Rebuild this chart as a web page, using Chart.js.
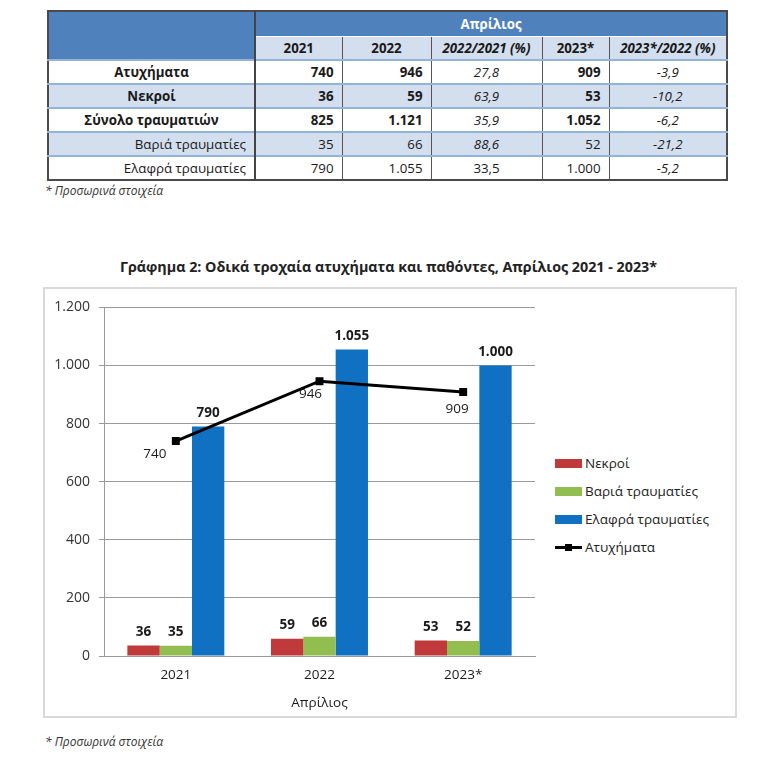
<!DOCTYPE html>
<html lang="el">
<head>
<meta charset="utf-8">
<title>Οδικά τροχαία ατυχήματα - Απρίλιος 2021 - 2023</title>
<script src="https://cdn.jsdelivr.net/npm/chart.js@4/dist/chart.umd.min.js"></script>
<style>
    html, body { margin: 0; padding: 0; background: #fff; }
    body { width: 777px; height: 762px; position: relative; font-family: "Open Sans", "Noto Sans", sans-serif; color: #1a1a1a; }
    #stats { position: absolute; left: 47px; top: 10px; border-collapse: collapse; table-layout: fixed; width: 679px; border: 2px solid #4a4a4a; font-size: 13.3px; }
    #stats td, #stats th { padding: 0 8px; height: 22px; line-height: 22px; border-left: 1px solid #555; white-space: nowrap; }
    #stats th { font-weight: bold; }
    #stats .corner { background: #4f81bd; border-right: 2px solid #444; }
    #stats .month { background: #4f81bd; color: #fff; height: 24px; border-bottom: 1px solid #fff; }
    #stats .sub th { background: #d3dfee; text-align: center; }
    #stats tbody td { border-top: 2px solid #95b3d7; text-align: right; }
    #stats tbody tr:nth-child(even) td { background: #d3dfee; }
    #stats tbody td.lbl { border-right: 2px solid #444; }
    #stats td.b { font-weight: bold; text-align: center; }
    #stats td.i { font-style: italic; text-align: center; }
    #stats td.c { text-align: center; }
    .note { position: absolute; left: 45px; font-size: 12px; font-style: italic; color: #333; }
    #chartTitle { position: absolute; left: 0; width: 777px; top: 257px; text-align: center; font-size: 14.3px; font-weight: bold; color: #222; }
    #chartBox { position: absolute; left: 43px; top: 287px; width: 690px; height: 427px; border: 2px solid #d9d9d9; }
    #chartWrap { position: absolute; left: 1px; top: 1px; width: 500px; height: 425px; }
    #legend { position: absolute; left: 510px; top: 160px; }
    .item { display: flex; align-items: center; height: 28px; font-size: 13.5px; color: #222; }
    .sw { width: 27px; height: 9px; margin-right: 3px; position: relative; }
    .sw.line::before { content: ""; position: absolute; left: 0; right: 0; top: 3px; height: 3px; background: #000; }
    .sw.line::after { content: ""; position: absolute; left: 10px; top: 1px; width: 7px; height: 7px; background: #000; }
</style>
</head>
<body>

<table id="stats">
    <colgroup>
        <col style="width:207px"><col style="width:87px"><col style="width:89px"><col style="width:111px"><col style="width:67px"><col style="width:118px">
    </colgroup>
    <thead>
        <tr><th class="corner" rowspan="2"></th><th class="month" colspan="5">Απρίλιος</th></tr>
        <tr class="sub"><th>2021</th><th>2022</th><th><i>2022/2021 (%)</i></th><th>2023*</th><th><i>2023*/2022 (%)</i></th></tr>
    </thead>
    <tbody id="statsBody"></tbody>
</table>
<div class="note" style="top:182px">* Προσωρινά στοιχεία</div>

<div id="chartTitle">Γράφημα 2: Οδικά τροχαία ατυχήματα και παθόντες, Απρίλιος 2021 - 2023*</div>
<div id="chartBox">
    <div id="chartWrap"><canvas id="accidentsChart"></canvas></div>
    <div id="legend"></div>
</div>
<div class="note" style="top:733px">* Προσωρινά στοιχεία</div>

<script>
// Δεδομένα Απριλίου
const years = ['2021', '2022', '2023*'];
const accidents = [740, 946, 909];
const deaths = [36, 59, 53];
const seriousInjuries = [35, 66, 52];
const slightInjuries = [790, 1055, 1000];
const totalInjuries = [825, 1121, 1052];
const yTicks = [0, 200, 400, 600, 800, 1000, 1200];

// Μεταβολές (%) όπως δίνονται στον πίνακα
const change2022 = ['27,8', '63,9', '35,9', '88,6', '33,5'];
const change2023 = ['-3,9', '-10,2', '-6,2', '-21,2', '-5,2'];

const colors = {
    deaths: '#c0393b',
    serious: '#92bd4f',
    slight: '#1070c2',
    accidents: '#000000'
};

// Μορφή αριθμών με τελεία για χιλιάδες
function fmt(v) {
    return String(v).replace(/\B(?=(\d{3})+(?!\d))/g, '.');
}

// Πίνακας
function buildTable() {
    const rows = [
        { label: 'Ατυχήματα', vals: accidents, bold: true },
        { label: 'Νεκροί', vals: deaths, bold: true },
        { label: 'Σύνολο τραυματιών', vals: totalInjuries, bold: true },
        { label: 'Βαριά τραυματίες', vals: seriousInjuries, bold: false },
        { label: 'Ελαφρά τραυματίες', vals: slightInjuries, bold: false }
    ];
    const body = document.getElementById('statsBody');
    rows.forEach((r, i) => {
        const tr = document.createElement('tr');
        const w = r.bold ? 'font-weight:bold;' : '';
        const lastRow = i === rows.length - 1;
        tr.innerHTML =
            `<td class="lbl ${r.bold ? 'b' : ''}">${r.label}</td>` +
            `<td style="${w}">${fmt(r.vals[0])}</td>` +
            `<td style="${w}">${fmt(r.vals[1])}</td>` +
            `<td class="${lastRow ? 'c' : 'i'}">${change2022[i]}</td>` +
            `<td style="${w}">${fmt(r.vals[2])}</td>` +
            `<td class="i">${change2023[i]}</td>`;
        body.appendChild(tr);
    });
}

// Υπόμνημα
function buildLegend() {
    const items = [
        { text: 'Νεκροί', color: colors.deaths },
        { text: 'Βαριά τραυματίες', color: colors.serious },
        { text: 'Ελαφρά τραυματίες', color: colors.slight },
        { text: 'Ατυχήματα', line: true }
    ];
    const legend = document.getElementById('legend');
    items.forEach(it => {
        const div = document.createElement('div');
        div.className = 'item';
        const sw = it.line ? '<span class="sw line"></span>' : `<span class="sw" style="background:${it.color}"></span>`;
        div.innerHTML = sw + '<span>' + it.text + '</span>';
        legend.appendChild(div);
    });
}

// Ετικέτες τιμών πάνω από τις μπάρες και κάτω από τα σημεία
const lineLabelShift = [[-21, 13], [-9, 13], [-6, 17]];
const valueLabels = {
    id: 'valueLabels',
    afterDatasetsDraw(chart) {
        const ctx = chart.ctx;
        ctx.save();
        ctx.fillStyle = '#1a1a1a';
        ctx.textAlign = 'center';
        chart.data.datasets.forEach((ds, di) => {
            const meta = chart.getDatasetMeta(di);
            meta.data.forEach((el, i) => {
                if (ds.type === 'line') {
                    ctx.font = '13.5px "Open Sans", sans-serif';
                    ctx.textBaseline = 'middle';
                    ctx.fillText(fmt(ds.data[i]), el.x + lineLabelShift[i][0], el.y + lineLabelShift[i][1]);
                } else {
                    ctx.font = 'bold 13.5px "Open Sans", sans-serif';
                    ctx.textBaseline = 'bottom';
                    ctx.fillText(fmt(ds.data[i]), el.x, el.y - 7);
                }
            });
        });
        ctx.restore();
    }
};

function initChart() {
    const el = document.getElementById('accidentsChart');
    Chart.defaults.font.family = '"Open Sans", sans-serif';
    Chart.defaults.color = '#262626';

    new Chart(el.getContext('2d'), {
        type: 'bar',
        data: {
            labels: years,
            datasets: [
                { type: 'line', label: 'Ατυχήματα', data: accidents, borderColor: colors.accidents, backgroundColor: colors.accidents,
                  borderWidth: 3, pointStyle: 'rect', pointRadius: 3.5, tension: 0, order: 0 },
                { label: 'Νεκροί', data: deaths, backgroundColor: colors.deaths, order: 1 },
                { label: 'Βαριά τραυματίες', data: seriousInjuries, backgroundColor: colors.serious, order: 1 },
                { label: 'Ελαφρά τραυματίες', data: slightInjuries, backgroundColor: colors.slight, order: 1 }
            ]
        },
        options: {
            responsive: true,
            maintainAspectRatio: false,
            animation: false,
            datasets: {
                bar: { categoryPercentage: 0.675, barPercentage: 1 }
            },
            layout: { padding: { top: 12, right: 11, left: 0, bottom: 0 } },
            scales: {
                x: {
                    grid: { display: false },
                    border: { color: '#9a9a9a', width: 1 },
                    ticks: { font: { size: 13.5 }, color: '#1a1a1a', padding: 3 },
                    title: { display: true, text: 'Απρίλιος', font: { size: 13.5 }, color: '#1a1a1a', padding: { top: 14 } },
                    afterFit(scale) { scale.height = 59; }
                },
                y: {
                    min: 0,
                    max: 1200,
                    afterBuildTicks(scale) { scale.ticks = yTicks.map(v => ({ value: v })); },
                    grid: { color: '#9a9a9a', tickLength: 5 },
                    border: { color: '#9a9a9a', width: 1 },
                    ticks: { font: { size: 14 }, color: '#333', padding: 9, callback: v => fmt(v) },
                    afterFit(scale) { scale.width = 58; }
                }
            },
            plugins: {
                legend: { display: false },
                tooltip: { enabled: false }
            }
        },
        plugins: [valueLabels]
    });
}

buildTable();
buildLegend();
initChart();
</script>
</body>
</html>
